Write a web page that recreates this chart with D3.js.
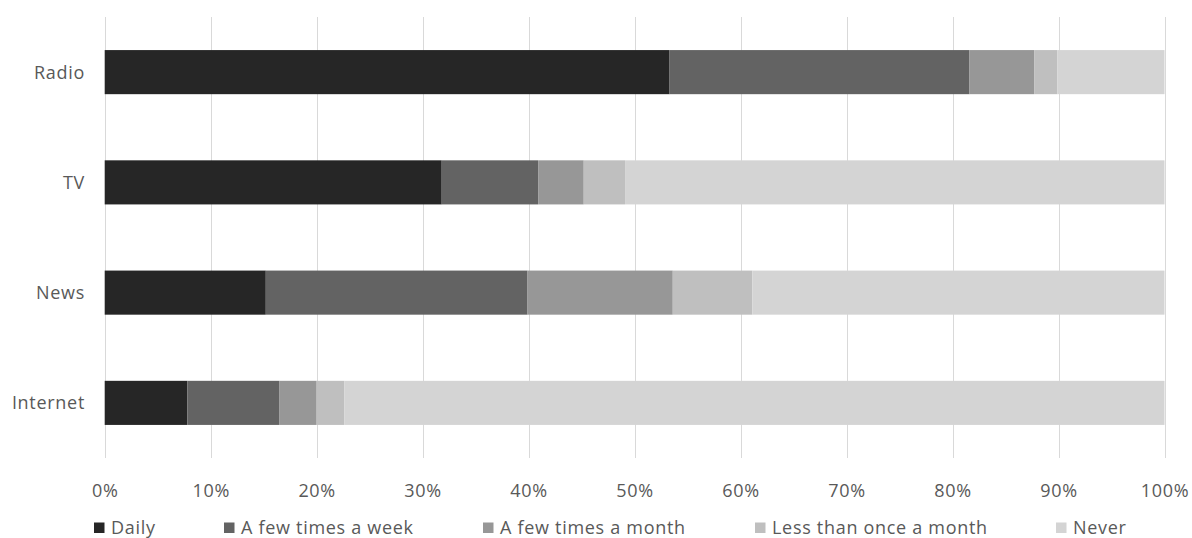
<!DOCTYPE html>
<html>
<head>
<meta charset="utf-8">
<script src="https://cdn.jsdelivr.net/npm/d3@7"></script>
<style>
  html, body { margin: 0; padding: 0; background: #fff; }
  svg text { font-family: "Open Sans", sans-serif; fill: #595959; letter-spacing: 0.7px; }
</style>
</head>
<body>
<svg id="chart" width="1192" height="538"></svg>
<script>
const categories = ["Radio", "TV", "News", "Internet"];
const seriesNames = ["Daily", "A few times a week", "A few times a month", "Less than once a month", "Never"];
const daily        = [53.3, 31.8, 15.2, 7.8];
const fewWeek      = [28.3, 9.1, 24.7, 8.7];
const fewMonth     = [6.1, 4.3, 13.7, 3.5];
const lessMonth    = [2.2, 3.9, 7.5, 2.6];
const never        = [10.1, 50.9, 38.9, 77.4];
const tickValues   = [0, 10, 20, 30, 40, 50, 60, 70, 80, 90, 100];
const colors = ["#262626", "#636363", "#979797", "#bfbfbf", "#d4d4d4"];

const seriesValues = [daily, fewWeek, fewMonth, lessMonth, never];
const rows = categories.map((c, i) => {
  const r = { category: c };
  seriesNames.forEach((s, j) => r[s] = seriesValues[j][i]);
  return r;
});

const svg = d3.select("#chart");
const x = d3.scaleLinear().domain([0, 100]).range([104.7, 1164.5]);
const y = d3.scaleBand().domain(categories).range([17, 458]).paddingInner(0.6).paddingOuter(0.3);

// gridlines
svg.append("g").selectAll("line").data(tickValues).join("line")
  .attr("x1", d => Math.round(x(d)) + 0.5).attr("x2", d => Math.round(x(d)) + 0.5)
  .attr("y1", 17).attr("y2", 458)
  .attr("stroke", "#d9d9d9").attr("stroke-width", 1);

// x tick labels
const xAxis = d3.axisBottom(x).tickValues(tickValues).tickFormat(d => d + "%").tickSize(0).tickPadding(0);
const gx = svg.append("g").attr("transform", "translate(0,480)").call(xAxis);
gx.select(".domain").remove();
gx.selectAll("text").attr("font-size", 18).attr("font-family", null).attr("dy", "0.92em").attr("fill", "#595959");

// y labels
const yAxis = d3.axisLeft(y).tickSize(0).tickPadding(0);
const gy = svg.append("g").attr("transform", "translate(85,0)").call(yAxis);
gy.select(".domain").remove();
gy.selectAll("text").attr("font-size", 18).attr("font-family", null).attr("dy", "0.36em").attr("fill", "#595959");
svg.selectAll(".tick text").style("font-family", "'Open Sans', sans-serif");

// bars
const stack = d3.stack().keys(seriesNames);
const stacked = stack(rows);
svg.append("g").selectAll("g").data(stacked).join("g")
  .attr("fill", (d, i) => colors[i])
  .selectAll("rect").data(d => d).join("rect")
  .attr("x", d => x(d[0]))
  .attr("width", d => x(d[1]) - x(d[0]))
  .attr("y", d => y(d.data.category))
  .attr("height", y.bandwidth());

// legend
const legendX = [94, 224, 483, 755, 1056];
const lg = svg.append("g").selectAll("g").data(seriesNames).join("g")
  .attr("transform", (d, i) => `translate(${legendX[i]},522.5)`);
lg.append("rect").attr("width", 10.5).attr("height", 10.5).attr("fill", (d, i) => colors[i]);
lg.append("text").attr("x", 17).attr("y", 11).attr("font-size", 18).text(d => d);
</script>
</body>
</html>
